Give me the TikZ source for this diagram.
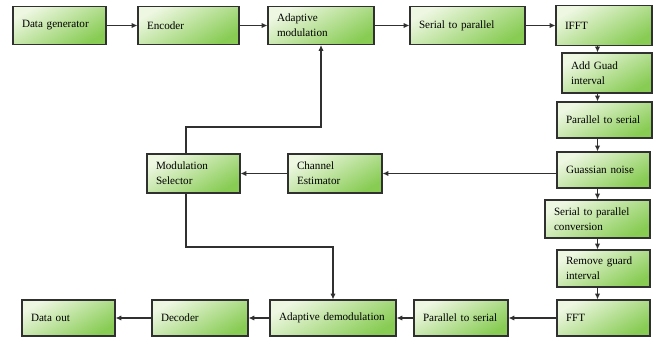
\documentclass[tikz,border=0pt]{standalone}
\usepackage{fontspec}
\setmainfont{Liberation Serif}
\usetikzlibrary{arrows.meta}
\definecolor{boxtop}{RGB}{238,247,226}
\definecolor{boxbot}{RGB}{136,204,84}
\definecolor{boxline}{RGB}{48,48,48}
\def\u{0.03cm}
% block: name, centre, width/height in px, text
\def\blk(#1)(#2,#3)(#4,#5)#6{\node[blk, minimum width=#4*\u, minimum height=#5*\u, text width=#4*\u-18*\u] (#1) at (#2,#3) {#6};}
\tikzset{
  blk/.style={draw=boxline, line width=0.9pt, top color=boxtop, bottom color=boxbot, shading angle=30,
    align=left, inner xsep=0pt, inner ysep=0pt, font=\fontsize{9.5}{13}\selectfont},
  arr/.style={draw=boxline, line width=0.9pt, -{Latex[length=5pt,width=4.5pt]}}
}
\begin{document}
\begin{tikzpicture}[x=\u, y=-\u]
				\useasboundingbox (0,0) rectangle (657,338);
				
				%%%%% transmitter %%%%%
				\blk(gen)(59.5,25.5)(93,38){Data generator}
				\blk(enc)(188.5,25.5)(101,38){Encoder}
				\blk(amod)(321,25.5)(106,38){Adaptive\\modulation}
				\blk(s2p)(467.5,25.5)(115,38){Serial to parallel}
				\blk(ifft)(604,25.5)(96,40){IFFT}
				
				\blk(agi)(607,73)(90,40){Add Guad\\interval}
				\blk(p2s)(604.5,120)(95,36){Parallel to serial}
				\blk(noise)(603.5,170)(93,36){Guassian noise}
				
				%%%%% receiver %%%%%
				\blk(s2pc)(597.5,219)(105,38){Serial to parallel\\conversion}
				\blk(rgi)(603.5,268.5)(93,37){Remove guard\\interval}
				\blk(fft)(603.5,318)(93,36){FFT}
				
				\blk(p2srx)(461,318)(94,36){Parallel to serial}
				\blk(ademod)(333,318)(126,36){Adaptive demodulation}
				\blk(dec)(200,318)(96,36){Decoder}
				\blk(out)(68.5,318)(93,36){Data out}
				
				%%%%% feedback %%%%%
				\blk(msel)(193.5,173.5)(93,39){Modulation\\Selector}
				\blk(chest)(335,173.5)(94,39){Channel\\Estimator}
				
				\draw[arr] (gen) -- (enc);
				\draw[arr] (enc) -- (amod);
				\draw[arr] (amod) -- (s2p);
				\draw[arr] (s2p) -- (ifft);
				
				\draw[arr] (ifft.south -| s2pc) -- (agi.north -| s2pc);
				\draw[arr] (agi.south -| s2pc) -- (p2s.north -| s2pc);
				\draw[arr] (p2s.south -| s2pc) -- (noise.north -| s2pc);
				\draw[arr] (noise.south -| s2pc) -- (s2pc.north);
				\draw[arr] (s2pc.south) -- (rgi.north -| s2pc);
				\draw[arr] (rgi.south -| s2pc) -- (fft.north -| s2pc);
				
				\draw[arr] (fft) -- (p2srx);
				\draw[arr] (p2srx) -- (ademod);
				\draw[arr] (ademod) -- (dec);
				\draw[arr] (dec) -- (out);
				
				\draw[arr] (noise.west |- chest) -- (chest.east);
				\draw[arr] (chest) -- (msel);
				
				\coordinate (up) at (186,127);
				\coordinate (dn) at (186,247);
				\draw[arr] (msel.north -| up) -- (up) -| (amod.south);
				\draw[arr] (msel.south -| dn) -- (dn) -| (ademod.north);
\end{tikzpicture}
\end{document}
